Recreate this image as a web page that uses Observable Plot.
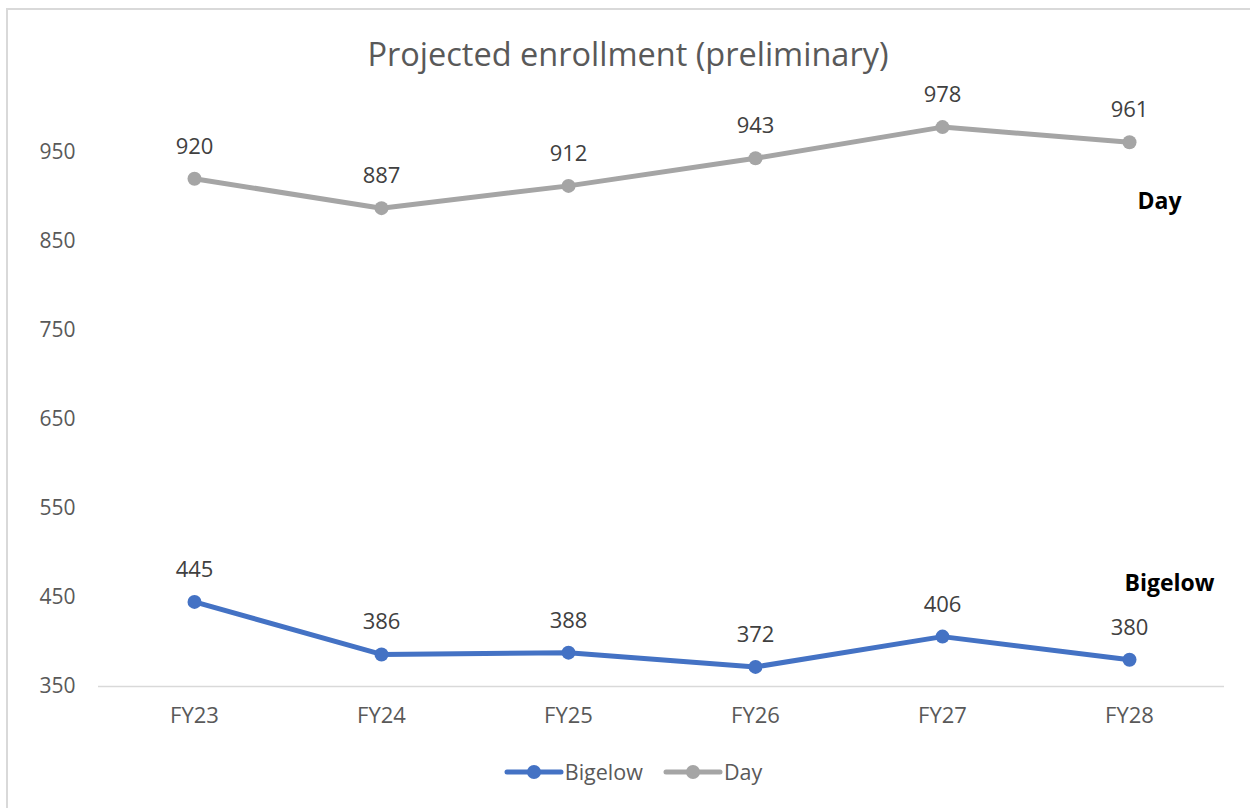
<!DOCTYPE html>
<html>
<head>
<meta charset="utf-8">
<script src="https://cdn.jsdelivr.net/npm/d3@7"></script>
<script src="https://cdn.jsdelivr.net/npm/@observablehq/plot@0.6"></script>
<style>
  html, body { margin: 0; padding: 0; background: #fff; }
  #wrap { position: relative; width: 1250px; height: 808px; overflow: hidden; font-family: "Open Sans", sans-serif; }
  #frame { position: absolute; left: 6px; top: 8px; width: 1300px; height: 900px; border-top: 2px solid #d9d9d9; border-left: 2px solid #d9d9d9; }
  #title { position: absolute; left: 0; width: 1250px; top: 31px; text-align: center; font-size: 32.5px; color: #595959; padding-left: 6px; box-sizing: border-box; }
  #chart { position: absolute; left: 0; top: 80px; }
  #legend { position: absolute; left: 0; width: 1250px; top: 757px; display: flex; justify-content: center; gap: 20px; font-size: 21.5px; color: #595959; padding-left: 16px; box-sizing: border-box; }
  .item { display: flex; align-items: center; gap: 1px; }
</style>
</head>
<body>
<div id="wrap">
  <div id="frame"></div>
  <div id="title">Projected enrollment (preliminary)</div>
  <div id="chart"></div>
  <div id="legend"></div>
</div>
<script>
const years = ["FY23", "FY24", "FY25", "FY26", "FY27", "FY28"];
const bigelow = [445, 386, 388, 372, 406, 380];
const day = [920, 887, 912, 943, 978, 961];
const seriesNames = ["Bigelow", "Day"];
const seriesColors = ["#4472c4", "#a5a5a5"];
const yTicks = [350, 450, 550, 650, 750, 850, 950];

const rows = [];
years.forEach((y, i) => {
  rows.push({year: y, value: bigelow[i], series: "Bigelow"});
  rows.push({year: y, value: day[i], series: "Day"});
});
const lastDay = [{year: years[years.length - 1], value: day[day.length - 1], label: "Day"}];
const lastBig = [{year: years[years.length - 1], value: bigelow[bigelow.length - 1], label: "Bigelow"}];

const chart = Plot.plot({
  width: 1250,
  height: 660,
  marginLeft: 98,
  marginRight: 26,
  marginTop: 27,
  marginBottom: 54,
  style: {fontFamily: "Open Sans, sans-serif", background: "transparent", overflow: "visible"},
  x: {type: "point", domain: years, padding: 0.5, label: null},
  y: {domain: [350, 1000], label: null},
  color: {domain: seriesNames, range: seriesColors},
  marks: [
    Plot.ruleY([350], {stroke: "#d9d9d9", strokeWidth: 1.5}),
    Plot.axisY({ticks: yTicks, tickSize: 0, tickPadding: 23, fontSize: 21, color: "#595959", label: null}),
    Plot.axisX({tickSize: 0, tickPadding: 21, fontSize: 22, color: "#595959", label: null}),
    Plot.line(rows, {x: "year", y: "value", z: "series", stroke: "series", strokeWidth: 5, strokeLinejoin: "round", strokeLinecap: "round"}),
    Plot.dot(rows, {x: "year", y: "value", fill: "series", r: 7}),
    Plot.text(rows, {x: "year", y: "value", text: d => String(d.value), dy: -32, fontSize: 22, fill: "#404040"}),
    Plot.text(lastDay, {x: "year", y: "value", text: "label", dx: 30, dy: 59, fontSize: 23, fontWeight: "bold", fill: "#000"}),
    Plot.text(lastBig, {x: "year", y: "value", text: "label", dx: 40, dy: -76, fontSize: 23, fontWeight: "bold", fill: "#000"})
  ]
});
document.getElementById("chart").appendChild(chart);

const legend = document.getElementById("legend");
seriesNames.forEach((name, i) => {
  const item = document.createElement("div");
  item.className = "item";
  item.innerHTML = `<svg width="60" height="16"><line x1="3" y1="8" x2="57" y2="8" stroke="${seriesColors[i]}" stroke-width="5" stroke-linecap="round"/><circle cx="30" cy="8" r="7" fill="${seriesColors[i]}"/></svg><span>${name}</span>`;
  legend.appendChild(item);
});
</script>
</body>
</html>
